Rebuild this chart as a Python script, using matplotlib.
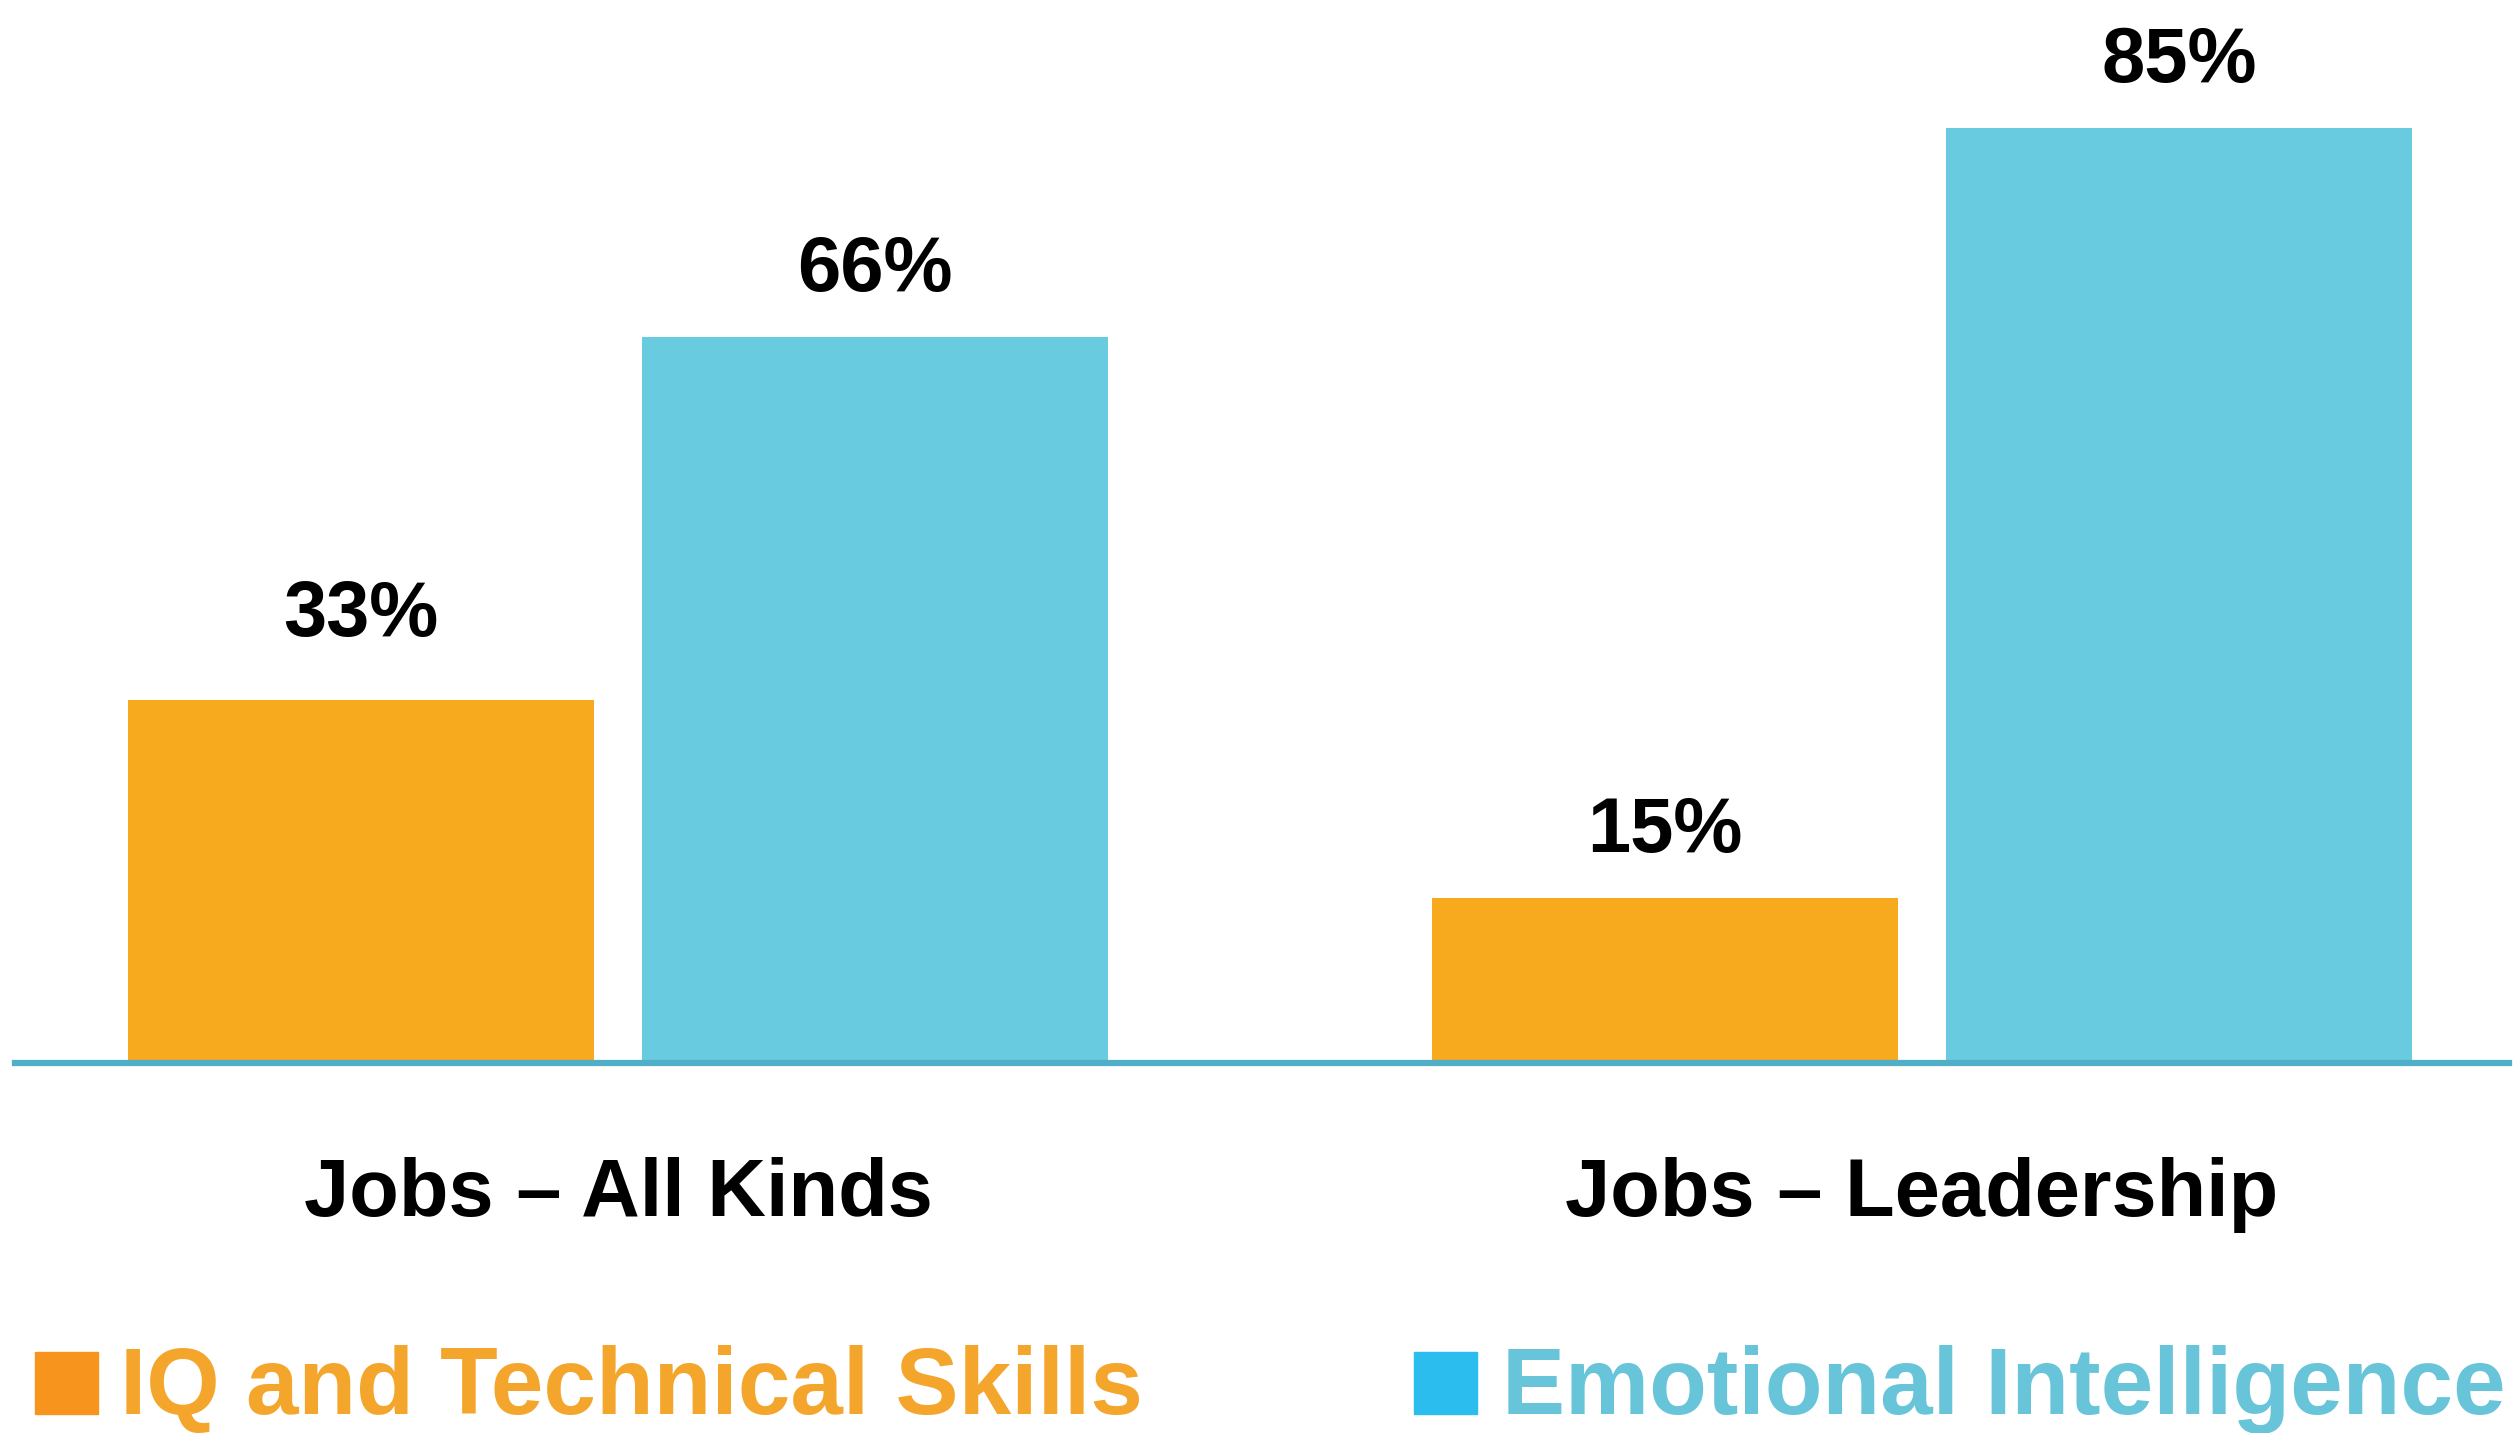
import matplotlib
matplotlib.use("Agg")
import matplotlib.pyplot as plt
from matplotlib.patches import Rectangle
from matplotlib.transforms import blended_transform_factory
import numpy as np

# dane z wykresu
categories = ["Jobs \u2013 All Kinds", "Jobs \u2013 Leadership"]
series_names = ["IQ and Technical Skills", "Emotional Intelligence"]
iq_values = [33, 15]
ei_values = [66, 85]

bar_colors = ["#F8AA1F", "#69CBDF"]
legend_box_colors = ["#F7941D", "#2BBDEE"]
legend_text_colors = ["#F4A62C", "#67C4D9"]
axis_color = "#4EAFC6"

plt.rcParams["font.family"] = ["Liberation Sans", "DejaVu Sans"]
plt.rcParams["font.weight"] = "bold"

W, H = 2519, 1433
fig = plt.figure(figsize=(W / 100, H / 100), dpi=100)
fig.patch.set_facecolor("white")

# osie: od linii bazowej do górnej krawędzi
ax = fig.add_axes([15 / W, (H - 1063) / H, (2509 - 15) / W, 1063 / H])
x = np.arange(len(categories))
width = 0.357
offset = 0.197

b1 = ax.bar(x - offset, iq_values, width, color=bar_colors[0])
b2 = ax.bar(x + offset, ei_values, width, color=bar_colors[1])

ax.set_xlim((15 - 618) / 1304, (2509 - 618) / 1304)
ax.set_ylim(0, 1063 / 11.0)

for s in ["top", "right", "left"]:
    ax.spines[s].set_visible(False)
ax.spines["bottom"].set_color(axis_color)
ax.spines["bottom"].set_linewidth(4.5)
ax.set_yticks([])
ax.set_xticks([])

# etykiety wartości (odstęp nad słupkiem w punktach)
label_pads = [[46, 33], [33, 33]]
for bars, vals, pads in zip([b1, b2], [iq_values, ei_values], zip(*label_pads)):
    for rect, v, pad in zip(bars, vals, pads):
        ax.annotate(f"{v}%", (rect.get_x() + rect.get_width() / 2, v),
                    xytext=(0, pad), textcoords="offset points",
                    ha="center", va="baseline", fontsize=56,
                    fontweight="bold", color="black")

# nazwy kategorii
trans = blended_transform_factory(ax.transData, fig.transFigure)
for xi, name in zip(x, categories):
    ax.text(xi, (H - 1216) / H, name, transform=trans, ha="center",
            va="baseline", fontsize=58.5, fontweight="bold", color="black")

# legenda
legend_pos = [(35, 120), (1414, 1502)]
for (bx, tx), name, bc, tc in zip(legend_pos, series_names,
                                  legend_box_colors, legend_text_colors):
    fig.patches.append(Rectangle((bx / W, (H - 1414) / H), 63 / W, 62 / H,
                                 transform=fig.transFigure, color=bc))
    fig.text(tx / W, (H - 1414) / H, name, ha="left", va="baseline",
             fontsize=68, fontweight="bold", color=tc)

fig.savefig("out.png", dpi=100)
